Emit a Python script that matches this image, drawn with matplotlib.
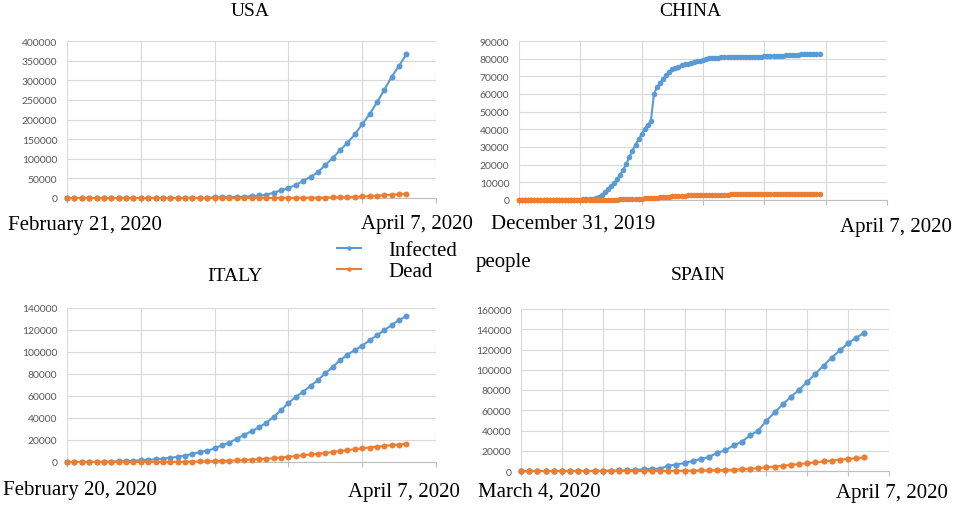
import matplotlib.pyplot as plt
from matplotlib.lines import Line2D

plt.rcParams['font.family'] = 'Liberation Serif'

BLUE = '#5B9BD5'
ORANGE = '#ED7D31'
W, H = 957, 506

# daily cumulative counts, one point per day
usa_infected = [13, 15, 15, 15, 51, 51, 57, 58, 60, 68,
                74, 98, 118, 149, 217, 262, 402, 518, 583, 959,
                1281, 1663, 2179, 2727, 3499, 4632, 6421, 7783, 13747, 19273,
                25600, 33276, 43847, 53740, 65778, 83836, 101657, 121478, 140886, 161807,
                188172, 213372, 243762, 275586, 308853, 337072, 366667]
usa_dead = [0, 0, 0, 0, 0, 0, 0, 0, 0, 1,
            1, 6, 7, 11, 12, 14, 17, 21, 22, 28,
            36, 40, 47, 54, 63, 85, 108, 118, 200, 244,
            307, 427, 552, 706, 942, 1209, 1581, 2026, 2467, 2978,
            3873, 4757, 5926, 7087, 8407, 9619, 10783]

china_infected = [27, 27, 27, 27, 44, 44, 59, 59, 59, 59,
                  59, 59, 41, 41, 41, 41, 41, 45, 62, 121,
                  198, 291, 440, 571, 830, 1287, 1975, 2744, 4515, 5974,
                  7711, 9692, 11791, 14380, 17205, 20438, 24324, 28018, 31161, 34546,
                  37198, 40171, 42638, 44653, 59804, 63851, 66492, 68500, 70548, 72436,
                  74185, 74576, 75465, 76288, 76936, 77150, 77658, 78064, 78497, 78824,
                  79251, 79824, 80132, 80261, 80386, 80537, 80690, 80770, 80823, 80860,
                  80887, 80921, 80932, 80945, 80977, 81003, 81033, 81058, 81102, 81156,
                  81250, 81305, 81435, 81498, 81591, 81661, 81782, 81897, 81999, 82122,
                  82198, 82279, 82361, 82432, 82511, 82543, 82602, 82665, 82718]
china_dead = [0, 0, 0, 0, 0, 0, 0, 0, 0, 0,
              0, 0, 1, 1, 1, 1, 1, 2, 2, 2,
              3, 6, 9, 17, 25, 41, 56, 80, 106, 132,
              170, 213, 259, 304, 361, 425, 490, 563, 636, 722,
              811, 908, 1016, 1113, 1368, 1380, 1523, 1665, 1770, 1868,
              2004, 2118, 2236, 2345, 2442, 2592, 2663, 2715, 2744, 2788,
              2835, 2870, 2912, 2943, 2981, 3012, 3042, 3070, 3097, 3119,
              3136, 3158, 3169, 3176, 3189, 3199, 3213, 3226, 3237, 3245,
              3248, 3255, 3261, 3270, 3277, 3281, 3287, 3292, 3295, 3300,
              3304, 3305, 3312, 3318, 3322, 3326, 3330, 3333, 3335]

italy_infected = [3, 20, 62, 155, 229, 322, 453, 655, 888, 1128,
                  1694, 2036, 2502, 3089, 3858, 4636, 5883, 7375, 9172, 10149,
                  12462, 15113, 17660, 21157, 24747, 27980, 31506, 35713, 41035, 47021,
                  53578, 59138, 63927, 69176, 74386, 80589, 86498, 92472, 97689, 101739,
                  105792, 110574, 115242, 119827, 124632, 128948, 132547]
italy_dead = [0, 1, 2, 3, 7, 10, 12, 17, 21, 29,
              34, 52, 79, 107, 148, 197, 233, 366, 463, 631,
              827, 1016, 1266, 1441, 1809, 2158, 2503, 2978, 3405, 4032,
              4825, 5476, 6077, 6820, 7503, 8165, 9134, 10023, 10779, 11591,
              12428, 13155, 13915, 14681, 15362, 15887, 16523]

spain_infected = [2, 6, 13, 15, 32, 45,
                  84, 120, 165, 222, 259, 400, 500, 673, 1073, 1695,
                  2277, 2277, 5232, 6391, 7798, 9942, 11748, 13910, 17963, 20410,
                  25374, 28768, 35136, 39885, 49515, 57786, 65719, 73235, 80110, 87956,
                  95923, 104118, 112065, 119199, 126168, 131646, 136675]
spain_dead = [0, 0, 0, 0, 0, 0,
              0, 0, 1, 2, 3, 5, 10, 17, 28, 35,
              54, 55, 133, 195, 289, 342, 533, 623, 830, 1043,
              1375, 1772, 2311, 2808, 3647, 4365, 5138, 5982, 6803, 7716,
              8464, 9387, 10348, 11198, 11947, 12641, 13341]


def box(left, top, right, bottom):
    return [left / W, 1 - bottom / H, (right - left) / W, (bottom - top) / H]


def draw_panel(ax, infected, dead, n_cat, x_step, y_max, y_step, ms):
    for vals, col in [(infected, BLUE), (dead, ORANGE)]:
        ax.plot(range(len(vals)), vals, color=col, lw=1.5, marker='o', ms=ms,
                mew=0, clip_on=False, zorder=3)
    ax.set_xlim(0, n_cat)
    ax.set_ylim(0, y_max)
    ax.set_xticks(range(0, n_cat + 1, x_step))
    ax.set_xticklabels([])
    ax.set_yticks(range(0, y_max + 1, y_step))
    ax.grid(color='#D9D9D9', lw=0.8)
    for s in ['top', 'right', 'left']:
        ax.spines[s].set_visible(False)
    ax.spines['bottom'].set_color('#BFBFBF')
    ax.spines['bottom'].set_linewidth(0.8)
    ax.tick_params(axis='x', length=3.5, width=0.8, color='#BFBFBF')
    ax.tick_params(axis='y', length=0, pad=7, labelsize=7.5, labelcolor='#595959')
    for lab in ax.get_yticklabels():
        lab.set_family('Lato')


fig = plt.figure(figsize=(W / 100, H / 100), dpi=100)

ax1 = fig.add_axes(box(67, 42, 436, 199))
draw_panel(ax1, usa_infected, usa_dead, 50, 10, 400000, 50000, 4.3)
ax2 = fig.add_axes(box(519, 42, 887, 201))
draw_panel(ax2, china_infected, china_dead, 120, 20, 90000, 10000, 4.0)
ax3 = fig.add_axes(box(67, 309, 436, 463))
draw_panel(ax3, italy_infected, italy_dead, 50, 10, 140000, 20000, 4.3)
ax4 = fig.add_axes(box(521, 310, 889, 472))
draw_panel(ax4, spain_infected, spain_dead, 45, 5, 160000, 20000, 4.5)

def txt(x, y, s, **kw):
    fig.text(x / W, 1 - y / H, s, **kw)

# titles
txt(250, 11, 'USA', ha='center', va='center', fontsize=14)
txt(690, 12, 'CHINA', ha='center', va='center', fontsize=14)
txt(235, 277, 'ITALY', ha='center', va='center', fontsize=14)
txt(698, 276, 'SPAIN', ha='center', va='center', fontsize=14)

# date range labels
txt(8, 230, 'February 21, 2020', ha='left', va='baseline', fontsize=15)
txt(473, 229, 'April 7, 2020', ha='right', va='baseline', fontsize=15)
txt(491, 229, 'December 31, 2019', ha='left', va='baseline', fontsize=15)
txt(952, 232, 'April 7, 2020', ha='right', va='baseline', fontsize=15)
txt(3, 495, 'February 20, 2020', ha='left', va='baseline', fontsize=15)
txt(460, 497, 'April 7, 2020', ha='right', va='baseline', fontsize=15)
txt(478, 497, 'March 4, 2020', ha='left', va='baseline', fontsize=15)
txt(948, 498, 'April 7, 2020', ha='right', va='baseline', fontsize=15)

handles = [Line2D([], [], color=BLUE, lw=1.5, marker='o', ms=3.2, mew=0),
           Line2D([], [], color=ORANGE, lw=1.5, marker='o', ms=3.2, mew=0)]
fig.legend(handles, ['Infected', 'Dead'], loc='center left',
           bbox_to_anchor=(337 / W, 1 - 262 / H), frameon=False, fontsize=15,
           handlelength=1.15, handletextpad=1.3, labelspacing=0.05,
           borderpad=0, borderaxespad=0)
txt(476, 262, 'people', ha='left', va='center', fontsize=15)

fig.savefig('out.png', dpi=100)
